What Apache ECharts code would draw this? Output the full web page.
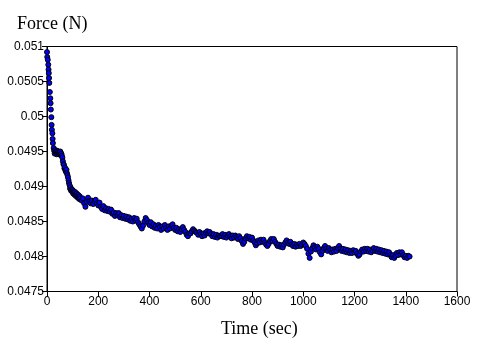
<!DOCTYPE html>
<html>
<head>
<meta charset="utf-8">
<script src="https://cdn.jsdelivr.net/npm/echarts@6/dist/echarts.min.js"></script>
<style>
  html, body { margin: 0; padding: 0; background: #fff; }
  #chart { width: 477px; height: 350px; }
</style>
</head>
<body>
<div id="chart"></div>
<script>
// Relaxation test: measured force against elapsed time
const timeSec = [
  0, 1, 3, 5, 6, 7, 8, 9, 11, 13, 14, 15, 17, 18, 19, 21, 22, 23, 26,
  28, 30, 32, 34, 36, 38, 40, 42, 44, 46, 48, 50, 52, 54, 56, 58, 60, 62, 64, 66,
  68, 70, 72, 74, 76, 78, 80, 82, 84, 86, 88, 90, 92, 94, 96, 98, 100, 102, 104, 106,
  108, 110, 112, 114, 116, 118, 120, 122, 124, 126, 128, 130,
  135, 140, 145, 150, 155, 160, 165, 170, 175, 180,
  185, 190, 195, 200, 205, 210, 215, 220, 225, 230,
  235, 240, 245, 250, 255, 260, 265, 270, 275, 280,
  285, 290, 295, 300, 305, 310, 315, 320, 325, 330,
  335, 340, 345, 350, 355, 360, 365, 370, 375, 380,
  385, 390, 395, 400, 405, 410, 415, 420, 425, 430,
  435, 440, 445, 450, 455, 460, 465, 470, 475, 480,
  485, 490, 495, 500, 505, 510, 515, 520, 525, 530,
  535, 540, 545, 550, 555, 560, 565, 570, 575, 580,
  585, 590, 595, 600, 605, 610, 615, 620, 625, 630,
  635, 640, 645, 650, 655, 660, 665, 670, 675, 680,
  685, 690, 695, 700, 705, 710, 715, 720, 725, 730,
  735, 740, 745, 750, 755, 760, 765, 770, 775, 780,
  785, 790, 795, 800, 805, 810, 815, 820, 825, 830,
  835, 840, 845, 850, 855, 860, 865, 870, 875, 880,
  885, 890, 895, 900, 905, 910, 915, 920, 925, 930,
  935, 940, 945, 950, 955, 960, 965, 970, 975, 980,
  985, 990, 995, 1000, 1005, 1010, 1015, 1020, 1025, 1030,
  1035, 1040, 1045, 1050, 1055, 1060, 1065, 1070, 1075, 1080,
  1085, 1090, 1095, 1100, 1105, 1110, 1115, 1120, 1125, 1130,
  1135, 1140, 1145, 1150, 1155, 1160, 1165, 1170, 1175, 1180,
  1185, 1190, 1195, 1200, 1205, 1210, 1215, 1220, 1225, 1230,
  1235, 1240, 1245, 1250, 1255, 1260, 1265, 1270, 1275, 1280,
  1285, 1290, 1295, 1300, 1305, 1310, 1315, 1320, 1325, 1330,
  1335, 1340, 1345, 1350, 1355, 1360, 1365, 1370, 1375, 1380,
  1385, 1390, 1395, 1400, 1405, 1410, 1415
];

const forceN = [
  0.05092, 0.05085, 0.05081, 0.05074, 0.05067, 0.05062, 0.05055, 0.05048, 0.05035, 0.05026,
  0.05019, 0.05010, 0.04999, 0.04988, 0.04981, 0.04976, 0.04968, 0.04962, 0.04955,
  0.04951, 0.04947, 0.04952, 0.04949, 0.04950, 0.04946, 0.04951, 0.04948, 0.04950, 0.04946,
  0.04949, 0.04947, 0.04950, 0.04945, 0.04947, 0.04944, 0.04941, 0.04936, 0.04932, 0.04931,
  0.04926, 0.04927, 0.04923, 0.04921, 0.04924, 0.04919, 0.04916, 0.04913, 0.04909, 0.04905,
  0.04902, 0.04897, 0.04899, 0.04894, 0.04896, 0.04893, 0.04895, 0.04890, 0.04893, 0.04891,
  0.04888, 0.04892, 0.04889, 0.04886, 0.04890, 0.04887, 0.04884, 0.04888, 0.04885, 0.04882,
  0.04886, 0.04883,
  0.04880, 0.04883, 0.04876, 0.04871, 0.04878, 0.04884, 0.04879, 0.04876, 0.04880, 0.04875,
  0.04879, 0.04881, 0.04876, 0.04873, 0.04877, 0.04871, 0.04868, 0.04872, 0.04866, 0.04869,
  0.04865, 0.04868, 0.04864, 0.04867, 0.04861, 0.04863, 0.04858, 0.04862, 0.04859, 0.04862,
  0.04856, 0.04859, 0.04855, 0.04858, 0.04854, 0.04857, 0.04853, 0.04856, 0.04851, 0.04854,
  0.04850, 0.04855, 0.04852, 0.04854, 0.04849, 0.04846, 0.04843, 0.04840, 0.04844, 0.04850,
  0.04855, 0.04852, 0.04848, 0.04845, 0.04849, 0.04843, 0.04846, 0.04841, 0.04844, 0.04840,
  0.04845, 0.04842, 0.04838, 0.04843, 0.04840, 0.04845, 0.04841, 0.04838, 0.04843, 0.04840,
  0.04844, 0.04846, 0.04841, 0.04838, 0.04841, 0.04836, 0.04839, 0.04835, 0.04839, 0.04842,
  0.04838, 0.04835, 0.04831, 0.04829, 0.04833, 0.04833, 0.04836, 0.04839, 0.04837, 0.04835,
  0.04834, 0.04831, 0.04835, 0.04832, 0.04829, 0.04833, 0.04830, 0.04834, 0.04836, 0.04833,
  0.04835, 0.04832, 0.04829, 0.04832, 0.04828, 0.04831, 0.04827, 0.04830, 0.04829, 0.04829,
  0.04832, 0.04828, 0.04831, 0.04827, 0.04830, 0.04832, 0.04829, 0.04826, 0.04830, 0.04827,
  0.04830, 0.04828, 0.04825, 0.04829, 0.04826, 0.04822, 0.04818, 0.04821, 0.04826, 0.04829,
  0.04826, 0.04828, 0.04824, 0.04827, 0.04823, 0.04820, 0.04816, 0.04819, 0.04823, 0.04820,
  0.04824, 0.04821, 0.04824, 0.04820, 0.04817, 0.04815, 0.04818, 0.04822, 0.04825, 0.04822,
  0.04825, 0.04821, 0.04818, 0.04815, 0.04817, 0.04814, 0.04816, 0.04813, 0.04817, 0.04820,
  0.04823, 0.04820, 0.04818, 0.04821, 0.04817, 0.04815, 0.04818, 0.04814, 0.04817, 0.04815,
  0.04818, 0.04815, 0.04817, 0.04820, 0.04818, 0.04815, 0.04811, 0.04804, 0.04798, 0.04807,
  0.04812, 0.04816, 0.04813, 0.04810, 0.04814, 0.04811, 0.04806, 0.04803, 0.04808, 0.04812,
  0.04815, 0.04811, 0.04808, 0.04812, 0.04809, 0.04806, 0.04810, 0.04807, 0.04811, 0.04808,
  0.04812, 0.04815, 0.04811, 0.04808, 0.04811, 0.04807, 0.04810, 0.04806, 0.04809, 0.04805,
  0.04808, 0.04805, 0.04809, 0.04806, 0.04808, 0.04804, 0.04801, 0.04803, 0.04807, 0.04810,
  0.04807, 0.04811, 0.04808, 0.04811, 0.04807, 0.04810, 0.04806, 0.04809, 0.04812, 0.04808,
  0.04811, 0.04807, 0.04810, 0.04806, 0.04809, 0.04805, 0.04808, 0.04804, 0.04807, 0.04803,
  0.04806, 0.04802, 0.04799, 0.04802, 0.04798, 0.04801, 0.04805, 0.04802, 0.04806, 0.04803,
  0.04806, 0.04802, 0.04799, 0.04801, 0.04798, 0.04801, 0.04800
];

const xTicks = [0, 200, 400, 600, 800, 1000, 1200, 1400, 1600];
const yTicks = [0.0475, 0.048, 0.0485, 0.049, 0.0495, 0.05, 0.0505, 0.051];

const xTitle = 'Time (sec)';
const yTitle = 'Force (N)';

const labelFont = "'Liberation Sans Narrow', 'Arial Narrow', 'Liberation Sans', sans-serif";
const titleFont = "'Liberation Serif', 'Times New Roman', serif";

const points = timeSec.map((t, i) => [t, forceN[i]]);

const chart = echarts.init(document.getElementById('chart'), null, { renderer: 'canvas' });

chart.setOption({
  animation: false,
  backgroundColor: '#ffffff',
  grid: {
    left: 47, top: 46.5, right: 20, bottom: 58.5,
    show: true, borderColor: '#000', borderWidth: 1, backgroundColor: 'transparent'
  },
  xAxis: {
    type: 'value',
    min: xTicks[0],
    max: xTicks[xTicks.length - 1],
    interval: xTicks[1] - xTicks[0],
    axisLine: { show: true, lineStyle: { color: '#000', width: 1 } },
    axisTick: { show: true, inside: false, length: 5, lineStyle: { color: '#000' } },
    axisLabel: {
      color: '#000', fontFamily: labelFont, fontSize: 12, margin: 4,
      formatter: v => String(v)
    },
    splitLine: { show: false }
  },
  yAxis: {
    type: 'value',
    min: yTicks[0],
    max: yTicks[yTicks.length - 1],
    interval: 0.0005,
    axisLine: { show: true, lineStyle: { color: '#000', width: 1 } },
    axisTick: { show: true, inside: false, length: 5, lineStyle: { color: '#000' } },
    axisLabel: {
      color: '#000', fontFamily: labelFont, fontSize: 12, margin: 3,
      formatter: v => String(parseFloat(v.toFixed(4)))
    },
    splitLine: { show: false }
  },
  graphic: [
    {
      type: 'text', left: 17, top: 15,
      style: { text: yTitle, fill: '#000', font: '18px ' + titleFont }
    },
    {
      type: 'text', left: 221, top: 320,
      style: { text: xTitle, fill: '#000', font: '18px ' + titleFont }
    }
  ],
  series: [{
    type: 'scatter',
    data: points,
    symbol: 'circle',
    symbolSize: 5,
    silent: true,
    itemStyle: { color: '#0000ff', borderColor: '#000000', borderWidth: 1, opacity: 1 }
  }]
});
</script>
</body>
</html>
